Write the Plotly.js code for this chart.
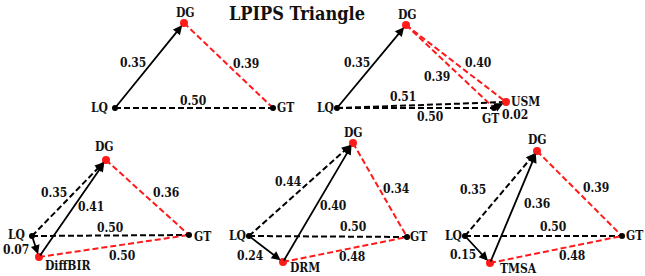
<!DOCTYPE html>
<html>
<head>
<meta charset="utf-8">
<script src="https://cdn.plot.ly/plotly-3.0.1.min.js"></script>
<style>html,body{margin:0;padding:0;background:#fff;}#chart{width:645px;height:276px;}</style>
</head>
<body>
<div id="chart"></div>
<script>
// ---------- data ----------
const chartTitle = "LPIPS Triangle";
const baseNodes = ["LQ", "DG", "GT"];
const methodNames = ["USM", "DiffBIR", "DRM", "TMSA"];
// distances of panel 1: LQ-DG, DG-GT, LQ-GT
const p1Values = [0.35, 0.39, 0.50];
// panel 2 (USM): LQ-DG, DG-USM, DG-GT, LQ-USM, LQ-GT, GT-USM
const p2Values = [0.35, 0.40, 0.39, 0.51, 0.50, 0.02];
// panels 3-5: LQ-DG, M-DG, DG-GT, LQ-GT, M-GT, LQ-M
const p3Values = [0.35, 0.41, 0.36, 0.50, 0.50, 0.07];
const p4Values = [0.44, 0.40, 0.34, 0.50, 0.48, 0.24];
const p5Values = [0.35, 0.36, 0.39, 0.50, 0.48, 0.15];

// ---------- layout geometry (pixel space) ----------
const geo = [
  {LQ:[115,108], DG:[184,23], GT:[273,108]},
  {LQ:[337,108], DG:[406,25], GT:[494,108], M:[506,102]},
  {LQ:[32,236], DG:[106,160], GT:[189,235], M:[39,257]},
  {LQ:[249,236], DG:[353,143], GT:[407,237], M:[283,262]},
  {LQ:[465,236], DG:[537,151], GT:[622,236], M:[490,263]}
];
const nodeLabelPos = [
  {LQ:[99,108], DG:[185,13], GT:[285,108]},
  {LQ:[325,108], DG:[407,15], GT:[490,119], M:[525,102]},
  {LQ:[16,235], DG:[104,147], GT:[202,237], M:[68,266]},
  {LQ:[237,236], DG:[353,133], GT:[418,237], M:[305,268]},
  {LQ:[453,236], DG:[537,140], GT:[634,236], M:[518,269]}
];
// edges: [from, to, style, arrow]
const edges1 = [["LQ","DG","solid",true],["DG","GT","red",false],["LQ","GT","dash",false]];
const edges2 = [["LQ","DG","solid",true],["DG","M","red",false],["DG","GT","red",false],
                ["LQ","M","dash",false],["LQ","GT","dash",false],["GT","M","solid",true]];
const edgesM = [["LQ","DG","dash",true],["M","DG","solid",true],["DG","GT","red",false],
                ["LQ","GT","dash",false],["M","GT","red",false],["LQ","M","solid",true]];
const valuePos = [
  [[133,63],[246,64],[193,101]],
  [[357,63],[478,63],[437,77],[403,97],[430,117],[515,115]],
  [[54,193],[91,207],[166,193],[110,228],[122,256],[16,250]],
  [[288,182],[333,206],[396,189],[353,227],[352,257],[250,256]],
  [[473,190],[537,204],[596,188],[553,227],[572,256],[463,255]]
];

const panelEdges = [edges1, edges2, edgesM, edgesM, edgesM];
const panelValues = [p1Values, p2Values, p3Values, p4Values, p5Values];
const panelMethod = [null, methodNames[0], methodNames[1], methodNames[2], methodNames[3]];

const FAM = "DejaVu Serif Condensed";
const font = {family: FAM, size: 12, color: "#111"};
const traces = [];
const annotations = [];

for (let p = 0; p < geo.length; p++) {
  const g = geo[p];
  panelEdges[p].forEach((e, i) => {
    const a = g[e[0]], b = g[e[1]];
    const style = e[2];
    const line = style === "solid" ? {color: "#000", width: 1.8}
               : style === "red" ? {color: "#ff1a1a", width: 2, dash: "6px,3px"}
               : {color: "#000", width: 2, dash: "6px,3px"};
    if (!(style === "solid" && e[3])) {
      traces.push({x: [a[0], b[0]], y: [a[1], b[1]], mode: "lines", line: line, hoverinfo: "skip", showlegend: false});
    }
    if (e[3]) {
      const dx = a[0] - b[0], dy = a[1] - b[1];
      const len = Math.hypot(dx, dy);
      const k = style === "solid" ? 1 : Math.min(1, 10 / len);
      annotations.push({x: b[0], y: b[1], xref: "x", yref: "y", ax: dx * k, ay: dy * k,
        showarrow: true, arrowhead: 2, arrowsize: 1, arrowwidth: 1.8, arrowcolor: "#000",
        standoff: e[1] === "LQ" || e[1] === "GT" ? 2 : 3, text: ""});
    }
    const vp = valuePos[p][i];
    annotations.push({x: vp[0], y: vp[1], xref: "x", yref: "y", showarrow: false,
      text: "<b>" + panelValues[p][i].toFixed(2) + "</b>", font: font});
  });
  // nodes
  const blackX = [], blackY = [], redX = [], redY = [];
  Object.keys(g).forEach(n => {
    if (n === "DG" || n === "M") { redX.push(g[n][0]); redY.push(g[n][1]); }
    else { blackX.push(g[n][0]); blackY.push(g[n][1]); }
    const lp = nodeLabelPos[p][n];
    annotations.push({x: lp[0], y: lp[1], xref: "x", yref: "y", showarrow: false,
      text: "<b>" + (n === "M" ? panelMethod[p] : n) + "</b>", font: font});
  });
  traces.push({x: blackX, y: blackY, mode: "markers", marker: {color: "#000", size: 6}, hoverinfo: "skip", showlegend: false});
  traces.push({x: redX, y: redY, mode: "markers", marker: {color: "#ff1a1a", size: 8}, hoverinfo: "skip", showlegend: false});
}

const layout = {
  width: 645, height: 276,
  margin: {l: 0, r: 0, t: 0, b: 0},
  paper_bgcolor: "#fff", plot_bgcolor: "#fff",
  title: {text: "<b>" + chartTitle + "</b>", x: 297 / 645, xref: "container", xanchor: "center",
          y: 1 - 14 / 276, yref: "container", yanchor: "middle",
          font: {family: FAM, size: 18, color: "#111"}},
  xaxis: {range: [0, 645], visible: false, fixedrange: true},
  yaxis: {range: [276, 0], visible: false, fixedrange: true},
  annotations: annotations,
  showlegend: false
};

Plotly.newPlot("chart", traces, layout, {staticPlot: true, displayModeBar: false});
</script>
</body>
</html>
